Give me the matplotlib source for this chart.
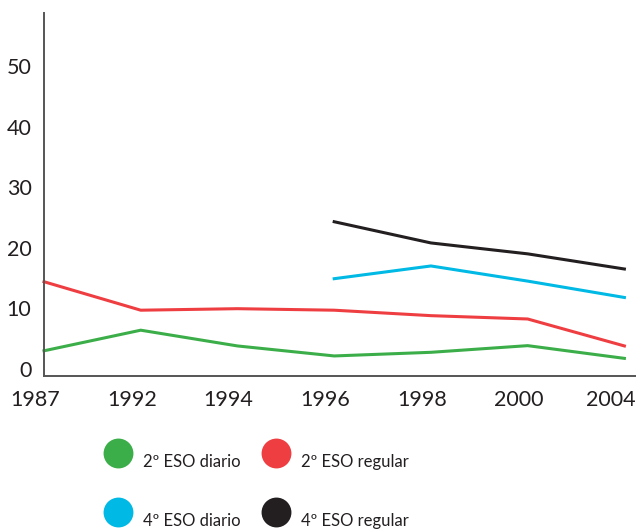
import matplotlib
matplotlib.use("Agg")
import matplotlib.pyplot as plt
import matplotlib.transforms as mtransforms
import numpy as np

years = ["1987", "1992", "1994", "1996", "1998", "2000", "2004"]
eso2_diario = [3.0, 6.4, 3.8, 2.15, 2.75, 3.85, 1.75]
eso2_regular = [14.4, 9.7, 9.95, 9.7, 8.8, 8.25, 3.8]
eso4_diario = [None, None, None, 14.9, 17.0, 14.5, 11.8]
eso4_regular = [None, None, None, 24.3, 20.8, 19.0, 16.5]
yticks = [0, 10, 20, 30, 40, 50]
labels = ["2º ESO diario", "2º ESO regular", "4º ESO diario", "4º ESO regular"]
colors = ["#3cae49", "#ef3e42", "#00b9e4", "#231f20"]

plt.rcParams['font.family'] = ['Lato', 'DejaVu Sans']
W, H = 636, 531
fig = plt.figure(figsize=(W / 100, H / 100), dpi=100)
ax = fig.add_axes([44 / W, 1 - 376 / H, 592 / W, 363 / H])

x = np.arange(len(years))
series = [eso2_diario, eso2_regular, eso4_diario, eso4_regular]
for vals, c in zip(series, colors):
    v = np.array([np.nan if a is None else a for a in vals], dtype=float)
    ax.plot(x, v, color=c, lw=2.2, solid_joinstyle='round', clip_on=False)

ax.set_xlim(0, 6.12)
ax.set_ylim(-1.16, 58.75)
ax.set_xticks(x)
ax.set_xticklabels(years)
ax.set_yticks(yticks)
ax.tick_params(length=0, labelsize=15.5, labelcolor="#231f20")
ax.tick_params(axis='y', pad=9)
ax.tick_params(axis='x', pad=10)
ticklabels = ax.get_xticklabels()
for i, lab in enumerate(ticklabels):
    dx = -9 if i < len(ticklabels) - 1 else -14
    off = mtransforms.ScaledTranslation(dx / 100, 0, fig.dpi_scale_trans)
    lab.set_transform(lab.get_transform() + off)
for s in ["top", "right"]:
    ax.spines[s].set_visible(False)
for s in ["left", "bottom"]:
    ax.spines[s].set_color("#555555")
    ax.spines[s].set_linewidth(1.4)

# legend drawn in a pixel-coordinate overlay
lax = fig.add_axes([0, 0, 1, 1])
lax.set_xlim(0, W)
lax.set_ylim(H, 0)
lax.axis('off')
cells = [(118, 453), (276, 453), (118, 512), (276, 512)]
for (cx, cy), c, lab in zip(cells, colors, labels):
    lax.plot([cx], [cy], marker='o', ms=21.5, mfc=c, mec='none', ls='none')
    lax.text(cx + 25, cy + 9, lab, fontsize=12, color="#231f20", va='center', ha='left')

fig.savefig("out.png", dpi=100)
